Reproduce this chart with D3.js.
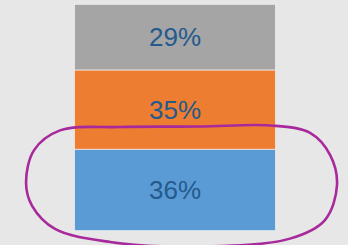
<!DOCTYPE html>
<html>
<head>
<meta charset="utf-8">
<script src="https://cdn.jsdelivr.net/npm/d3@7"></script>
<style>
    html, body { margin: 0; padding: 0; background: #e7e7e7; }
    svg { display: block; }
</style>
</head>
<body>
<div id="chart"></div>
<script>
// chart data
const categories = ["Total"];
const seriesNames = ["Blue", "Orange", "Gray"];
const seriesValues = [36, 35, 29];
const seriesLabels = ["36%", "35%", "29%"];

// hand drawn ring round the blue segment, x as fraction of bar width, y in % units
const ringX = [-0.241, -0.201, -0.072, 0.226, 0.624, 0.973, 1.172, 1.272, 1.306, 1.246, 1.072, 0.624, 0.177, -0.097, -0.211];
const ringY = [21.1, 35.6, 44.3, 45.8, 46.0, 46.5, 43.2, 33.4, 20.2, 4.7, -3.5, -7.0, -5.0, 0.8, 11.0];

const colors = ["#5b9bd5", "#ed7d31", "#a5a5a5"];

const svgWidth = 348;
const svgHeight = 245;
const margin = { top: 4.3, right: 72.5, bottom: 14.3, left: 74.5 };

const svg = d3.select("#chart")
    .append("svg")
    .attr("width", svgWidth)
    .attr("height", svgHeight);

const xScale = d3.scaleBand()
    .domain(categories)
    .range([margin.left, svgWidth - margin.right])
    .padding(0);

const yScale = d3.scaleLinear()
    .domain([0, 100])
    .range([svgHeight - margin.bottom, margin.top]);

// stack the segments
const stack = [];
let base = 0;
seriesValues.forEach(function (v, i) {
    stack.push({ name: seriesNames[i], y0: base, y1: base + v, label: seriesLabels[i], color: colors[i] });
    base += v;
});

const segs = svg.append("g").selectAll("g")
    .data(stack)
    .enter()
    .append("g");

segs.append("rect")
    .attr("x", xScale(categories[0]))
    .attr("width", xScale.bandwidth())
    .attr("y", d => yScale(d.y1))
    .attr("height", d => yScale(d.y0) - yScale(d.y1))
    .attr("fill", d => d.color)
    .attr("stroke", "#f2f2f2")
    .attr("stroke-width", 0.7);

segs.append("text")
    .attr("x", xScale(categories[0]) + xScale.bandwidth() / 2)
    .attr("y", d => yScale((d.y0 + d.y1) / 2))
    .attr("dy", "0.36em")
    .attr("text-anchor", "middle")
    .attr("font-family", "'Liberation Sans', Arial, sans-serif")
    .attr("font-size", "26px")
    .attr("fill", "#245a8d")
    .text(d => d.label);

// annotation ring
const bx = xScale(categories[0]);
const bw = xScale.bandwidth();
const ringPts = ringX.map((fx, i) => [bx + fx * bw, yScale(ringY[i])]);

svg.append("path")
    .attr("d", d3.line().curve(d3.curveCatmullRomClosed.alpha(0.5))(ringPts))
    .attr("fill", "none")
    .attr("stroke", "#a8299c")
    .attr("stroke-width", 2.6);
</script>
</body>
</html>
